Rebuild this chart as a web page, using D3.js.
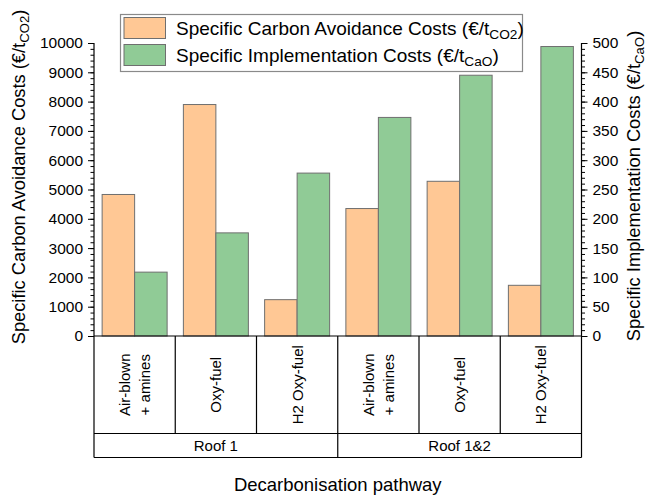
<!DOCTYPE html>
<html>
<head>
<meta charset="utf-8">
<script src="https://cdn.jsdelivr.net/npm/d3@7"></script>
<style>
  html, body { margin: 0; padding: 0; background: #fff; }
  svg { display: block; font-family: "Liberation Sans", Arial, sans-serif; }
</style>
</head>
<body>
<svg id="chart" width="646" height="495"></svg>
<script>
// Decarbonisation pathways and their groups
const pathways = [
  ["Air-blown", "+ amines"], ["Oxy-fuel"], ["H2 Oxy-fuel"],
  ["Air-blown", "+ amines"], ["Oxy-fuel"], ["H2 Oxy-fuel"]
];
const groups = ["Roof 1", "Roof 1&2"];
const groupSize = [3, 3];

// Specific carbon avoidance costs (€/t CO2), left axis
const avoidanceCosts = [4830, 7900, 1240, 4350, 5280, 1730];
// Specific implementation costs (€/t CaO), right axis
const implementationCosts = [109, 176, 278, 373, 445, 494];

const leftTicks = [0, 1000, 2000, 3000, 4000, 5000, 6000, 7000, 8000, 9000, 10000];
const rightTicks = [0, 50, 100, 150, 200, 250, 300, 350, 400, 450, 500];

const colAvoid = "#ffc895";
const colImpl = "#90cb96";
const barStroke = "#6f6f6f";

const svg = d3.select("#chart");
const plotLeft = 94, plotRight = 581.5, plotTop = 43, base = 336;
const catBottom = 433.5, grpBottom = 457.5;

const idx = pathways.map((d, i) => i);
const x = d3.scaleBand().domain(idx).range([plotLeft, plotRight]).padding(0);
const yL = d3.scaleLinear().domain([0, 10000]).range([base, plotTop]);
const yR = d3.scaleLinear().domain([0, 500]).range([base, plotTop]);
const bw = x.bandwidth();
const barW = bw * 0.4;

// bars
const bars = svg.append("g");
bars.selectAll("rect.avoid").data(avoidanceCosts).join("rect")
  .attr("class", "avoid")
  .attr("x", (d, i) => x(i) + bw * 0.1)
  .attr("y", d => yL(d))
  .attr("width", barW)
  .attr("height", d => base - yL(d))
  .attr("fill", colAvoid).attr("stroke", barStroke).attr("stroke-width", 1);
bars.selectAll("rect.impl").data(implementationCosts).join("rect")
  .attr("class", "impl")
  .attr("x", (d, i) => x(i) + bw * 0.5)
  .attr("y", d => yR(d))
  .attr("width", barW)
  .attr("height", d => base - yR(d))
  .attr("fill", colImpl).attr("stroke", barStroke).attr("stroke-width", 1);

// left axis
const gL = svg.append("g").attr("transform", `translate(${plotLeft},0)`);
gL.call(d3.axisLeft(yL).tickValues(d3.range(0, 10001, 200)).tickSize(3.5).tickFormat(""));
const gLm = svg.append("g").attr("transform", `translate(${plotLeft},0)`);
gLm.call(d3.axisLeft(yL).tickValues(leftTicks).tickSize(6).tickPadding(5).tickFormat(d3.format("d")));
gLm.selectAll("text").attr("font-size", 15.5).attr("fill", "#000").attr("font-family", "Liberation Sans, Arial, sans-serif");
[gL, gLm].forEach(g => g.select(".domain").remove());

// right axis
const gR = svg.append("g").attr("transform", `translate(${plotRight},0)`);
gR.call(d3.axisRight(yR).tickValues(d3.range(0, 501, 10)).tickSize(3.5).tickFormat(""));
const gRm = svg.append("g").attr("transform", `translate(${plotRight},0)`);
gRm.call(d3.axisRight(yR).tickValues(rightTicks).tickSize(6).tickPadding(5).tickFormat(d3.format("d")));
gRm.selectAll("text").attr("font-size", 15.5).attr("fill", "#000").attr("font-family", "Liberation Sans, Arial, sans-serif");
[gR, gRm].forEach(g => g.select(".domain").remove());

// frame lines: axes extend down around the category table
const lines = svg.append("g").attr("stroke", "#000").attr("stroke-width", 1.2).attr("fill", "none");
lines.append("line").attr("x1", plotLeft).attr("x2", plotLeft).attr("y1", plotTop).attr("y2", grpBottom);
lines.append("line").attr("x1", plotRight).attr("x2", plotRight).attr("y1", plotTop).attr("y2", grpBottom);
lines.append("line").attr("x1", plotLeft).attr("x2", plotRight).attr("y1", base).attr("y2", base);
lines.append("line").attr("x1", plotLeft).attr("x2", plotRight).attr("y1", catBottom).attr("y2", catBottom);
lines.append("line").attr("x1", plotLeft).attr("x2", plotRight).attr("y1", grpBottom).attr("y2", grpBottom);
idx.slice(1).forEach(i => {
  lines.append("line").attr("x1", x(i)).attr("x2", x(i)).attr("y1", base).attr("y2", catBottom);
});
let acc = 0;
const groupSpans = groupSize.map(n => { const s = [acc, acc + n - 1]; acc += n; return s; });
groupSpans.slice(1).forEach(s => {
  lines.append("line").attr("x1", x(s[0])).attr("x2", x(s[0])).attr("y1", catBottom).attr("y2", grpBottom);
});

// category labels (rotated)
const catMid = (base + catBottom) / 2;
pathways.forEach((lbl, i) => {
  const cx = x(i) + bw / 2;
  const n = lbl.length;
  lbl.forEach((line, j) => {
    const lx = cx + (j - (n - 1) / 2) * 20.5;
    svg.append("text")
      .attr("transform", `translate(${lx + 5.5},${catMid}) rotate(-90)`)
      .attr("text-anchor", "middle")
      .attr("font-size", 15)
      .text(line);
  });
});

// group labels
groups.forEach((g, k) => {
  const s = groupSpans[k];
  const gx = (x(s[0]) + x(s[1]) + bw) / 2;
  svg.append("text").attr("x", gx).attr("y", (catBottom + grpBottom) / 2 + 5.5)
    .attr("text-anchor", "middle").attr("font-size", 15).text(g);
});

// axis titles
svg.append("text").attr("x", (plotLeft + plotRight) / 2).attr("y", 491)
  .attr("text-anchor", "middle").attr("font-size", 18.5).text("Decarbonisation pathway");

function unitTitle(sel, main, sub) {
  sel.append("tspan").text(main + " (€/t");
  sel.append("tspan").attr("font-size", "0.72em").attr("dy", 4).text(sub);
  sel.append("tspan").attr("dy", -4).text(")");
}
const tL = svg.append("text")
  .attr("transform", "translate(24.5,177) rotate(-90)")
  .attr("text-anchor", "middle").attr("font-size", 18.3);
unitTitle(tL, "Specific Carbon Avoidance Costs", "CO2");
const tR = svg.append("text")
  .attr("transform", "translate(639.5,186) rotate(-90)")
  .attr("text-anchor", "middle").attr("font-size", 18.3);
unitTitle(tR, "Specific Implementation Costs", "CaO");

// legend
const lg = svg.append("g");
lg.append("rect").attr("x", 120.5).attr("y", 14.5).attr("width", 402).attr("height", 57)
  .attr("fill", "#fff").attr("stroke", "#8a8a8a").attr("stroke-width", 1.2);
const legendItems = [
  { color: colAvoid, main: "Specific Carbon Avoidance Costs", sub: "CO2" },
  { color: colImpl, main: "Specific Implementation Costs", sub: "CaO" }
];
legendItems.forEach((it, k) => {
  const yy = 17.5 + k * 27;
  lg.append("rect").attr("x", 124).attr("y", yy).attr("width", 41.5).attr("height", 21)
    .attr("fill", it.color).attr("stroke", barStroke).attr("stroke-width", 1);
  const t = lg.append("text").attr("x", 176).attr("y", yy + 17).attr("font-size", 19);
  unitTitle(t, it.main, it.sub);
});
</script>
</body>
</html>
